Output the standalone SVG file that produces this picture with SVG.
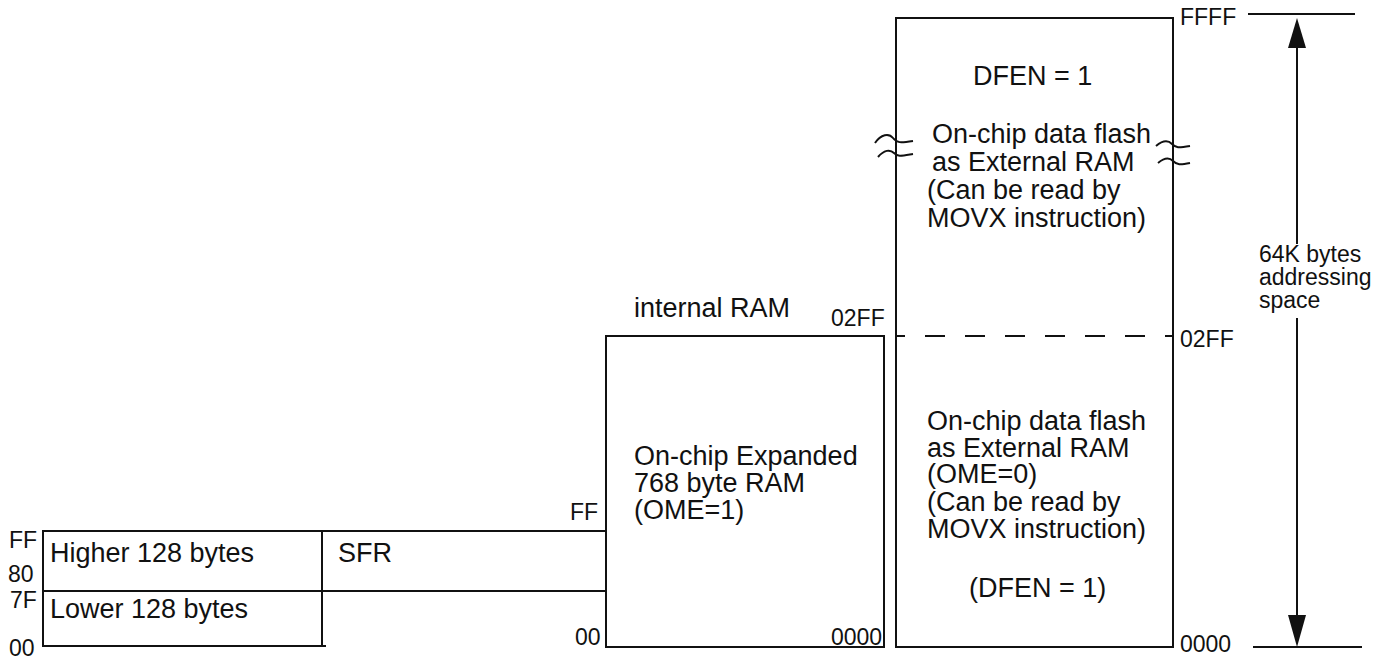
<svg xmlns="http://www.w3.org/2000/svg" width="1393" height="657" viewBox="0 0 1393 657">
<defs>
<style>
.ln{stroke:#111;stroke-width:2;fill:none}
.t{font-family:"Liberation Sans",Arial,sans-serif;font-size:27px;fill:#111}
.a{font-family:"Liberation Sans",Arial,sans-serif;font-size:23px;fill:#111}
.ah{fill:#111}
</style>
</defs>
<rect width="1393" height="657" fill="#fff"/>

<g id="lower-ram">
<path class="ln" d="M43,530 V647 M43,531 H606 M43,591 H606 M43,646 H326 M322,531 V647"/>
<text class="t" x="50" y="562">Higher 128 bytes</text>
<text class="t" x="50" y="618">Lower 128 bytes</text>
<text class="t" x="338" y="562">SFR</text>
<text class="a" x="9" y="548">FF</text>
<text class="a" x="8" y="582">80</text>
<text class="a" x="10" y="608">7F</text>
<text class="a" x="9" y="656">00</text>
</g>

<g id="internal-ram">
<rect class="ln" x="606" y="336" width="278" height="311"/>
<text class="t" x="634" y="317">internal RAM</text>
<text class="a" x="831" y="326">02FF</text>
<text class="t" x="634" y="465">On-chip Expanded</text>
<text class="t" x="634" y="492">768 byte RAM</text>
<text class="t" x="634" y="519">(OME=1)</text>
<text class="a" x="570" y="520">FF</text>
<text class="a" x="575" y="645">00</text>
<text class="a" x="831" y="645">0000</text>
</g>

<g id="external-ram">
<rect class="ln" x="896" y="18" width="277" height="629"/>
<line class="ln" x1="896" y1="336" x2="1173" y2="336" stroke-dasharray="20 20" stroke-dashoffset="11"/>
<path class="ln" stroke-width="1.5" d="M875,143 C881,134 889,133 893,138 S900,143 913,141 M878,157 C884,150 890,149 894,153 S901,156 913,154"/>
<path class="ln" stroke-width="1.5" d="M1156,146 C1162,141 1168,140 1172,144 S1178,148 1190,146 M1158,163 C1164,158 1169,157 1173,161 S1180,165 1190,163"/>
<text class="t" x="973" y="85">DFEN = 1</text>
<text class="t" x="932" y="143">On-chip data flash</text>
<text class="t" x="932" y="171">as External RAM</text>
<text class="t" x="927" y="199">(Can be read by</text>
<text class="t" x="927" y="227">MOVX instruction)</text>
<text class="t" x="927" y="430">On-chip data flash</text>
<text class="t" x="927" y="457">as External RAM</text>
<text class="t" x="927" y="483">(OME=0)</text>
<text class="t" x="927" y="511">(Can be read by</text>
<text class="t" x="927" y="538">MOVX instruction)</text>
<text class="t" x="969" y="597">(DFEN = 1)</text>
<text class="a" x="1180" y="25">FFFF</text>
<text class="a" x="1180" y="347">02FF</text>
<text class="a" x="1180" y="652">0000</text>
</g>

<g id="address-space">
<text class="a" x="1259" y="262">64K bytes</text>
<text class="a" x="1259" y="285">addressing</text>
<text class="a" x="1259" y="308">space</text>
</g>

<g id="connectors">
<line class="ln" x1="1248" y1="14" x2="1355" y2="14"/>
<line class="ln" x1="1253" y1="647" x2="1362" y2="647"/>
<line class="ln" x1="1297" y1="244" x2="1297" y2="48"/>
<path class="ah" d="M1297,18 L1306,48 L1288,48 Z"/>
<line class="ln" x1="1297" y1="318" x2="1297" y2="617"/>
<path class="ah" d="M1297,647 L1306,615 L1288,615 Z"/>
</g>
</svg>
